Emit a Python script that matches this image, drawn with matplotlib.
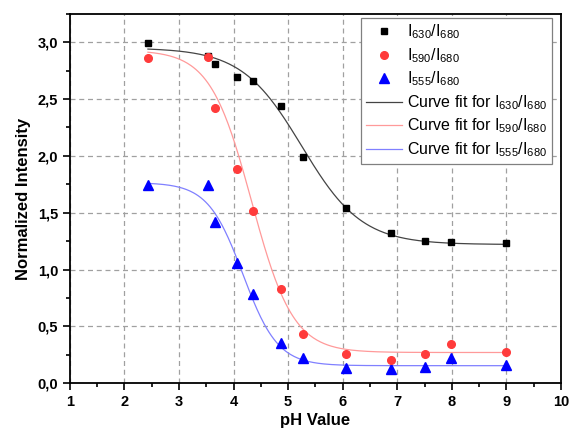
import numpy as np
import matplotlib
matplotlib.use("Agg")
import matplotlib.pyplot as plt
from matplotlib.ticker import MultipleLocator, FuncFormatter

plt.rcParams['font.family'] = ['Liberation Sans', 'DejaVu Sans']
plt.rcParams['mathtext.fontset'] = 'custom'
plt.rcParams['mathtext.rm'] = 'Liberation Sans'
plt.rcParams['mathtext.it'] = 'Liberation Sans'
plt.rcParams['mathtext.default'] = 'regular'

# Дані
ph = [2.43, 3.54, 3.66, 4.07, 4.36, 4.86, 5.27, 6.06, 6.88, 7.50, 7.98, 9.00]
i630 = [2.99, 2.88, 2.81, 2.69, 2.66, 2.44, 1.99, 1.54, 1.32, 1.25, 1.24, 1.23]
i590 = [2.86, 2.87, 2.42, 1.885, 1.515, 0.83, 0.434, 0.254, 0.207, 0.254, 0.348, 0.272]
i555 = [1.74, 1.74, 1.42, 1.06, 0.787, 0.354, 0.219, 0.13, 0.125, 0.145, 0.22, 0.16]

# Параметри Больцманівської апроксимації: A1, A2, x0, dx
fit630 = (2.95, 1.22, 5.25, 0.55)
fit590 = (2.93, 0.27, 4.33, 0.38)
fit555 = (1.765, 0.154, 4.17, 0.32)


def boltzmann(x, p):
    a1, a2, x0, dx = p
    return a2 + (a1 - a2) / (1 + np.exp((x - x0) / dx))


fig = plt.figure(figsize=(5.73, 4.32), dpi=100)
ax = fig.add_axes([0.122, 0.113, 0.857, 0.855])

xf = np.linspace(ph[0], ph[-1], 300)

ax.plot(ph, i630, 's', color='black', ms=5, label=r'I$_{630}$/I$_{680}$', zorder=4)
ax.plot(ph, i590, 'o', color='#ff3b3b', ms=5.5, label=r'I$_{590}$/I$_{680}$', zorder=5)
ax.plot(ph, i555, '^', color='#0000ff', ms=6.5, label=r'I$_{555}$/I$_{680}$', zorder=4)
ax.plot(xf, boltzmann(xf, fit630), color='#444444', lw=0.9,
        label=r'Curve fit for I$_{630}$/I$_{680}$', zorder=3)
ax.plot(xf, boltzmann(xf, fit590), color='#ff9a9a', lw=0.9,
        label=r'Curve fit for I$_{590}$/I$_{680}$', zorder=3)
ax.plot(xf, boltzmann(xf, fit555), color='#8080ff', lw=0.9,
        label=r'Curve fit for I$_{555}$/I$_{680}$', zorder=3)

ax.set_xlim(1, 10)
ax.set_ylim(0, 3.25)
ax.xaxis.set_major_locator(MultipleLocator(1))
ax.xaxis.set_minor_locator(MultipleLocator(0.5))
ax.yaxis.set_major_locator(MultipleLocator(0.5))
ax.yaxis.set_minor_locator(MultipleLocator(0.25))
ax.yaxis.set_major_formatter(FuncFormatter(lambda v, pos: f"{v:.1f}".replace('.', ',')))

ax.grid(True, which='major', ls=(0, (4, 3)), color='#a0a0a0', lw=0.9)
ax.set_axisbelow(True)

ax.tick_params(which='both', direction='out', top=False, right=False, width=1.2)
ax.tick_params(which='major', length=5, labelsize=10.5)
ax.tick_params(which='minor', length=3)
for lbl in ax.get_xticklabels() + ax.get_yticklabels():
    lbl.set_fontweight('bold')
for s in ax.spines.values():
    s.set_linewidth(1.3)

ax.set_xlabel('pH Value', fontsize=12, fontweight='bold', labelpad=3)
ax.set_ylabel('Normalized Intensity', fontsize=12, fontweight='bold', labelpad=5)

leg = ax.legend(loc='upper right', bbox_to_anchor=(0.982, 0.989), borderaxespad=0,
                fontsize=11.5, frameon=True, fancybox=False, edgecolor='#808080',
                framealpha=1, handlelength=2.3, handletextpad=0.3,
                labelspacing=0.3, borderpad=0.3)
leg.get_frame().set_linewidth(0.9)

fig.savefig('out.png', dpi=100)
